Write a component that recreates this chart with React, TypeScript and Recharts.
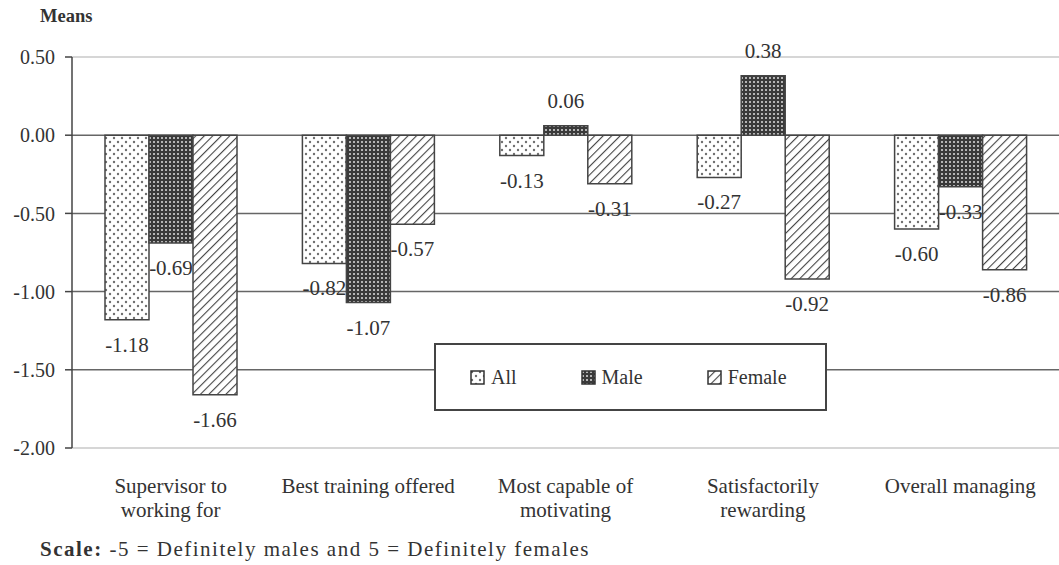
import React from "react";
import { Bar, BarChart, CartesianGrid, LabelList, XAxis, YAxis } from "recharts";

const categories = [
  "Supervisor to|working for",
  "Best training offered",
  "Most capable of|motivating",
  "Satisfactorily|rewarding",
  "Overall managing"
];
const allValues = [-1.18, -0.82, -0.13, -0.27, -0.6];
const maleValues = [-0.69, -1.07, 0.06, 0.38, -0.33];
const femaleValues = [-1.66, -0.57, -0.31, -0.92, -0.86];
const yTicks = [0.5, 0, -0.5, -1, -1.5, -2];
const edgeGridValues = [0.5, -2];
const innerGridValues = [0, -0.5, -1, -1.5];

const data = categories.map((name, i) => ({
  name,
  all: allValues[i],
  male: maleValues[i],
  female: femaleValues[i]
}));

const FONT = '"Liberation Serif", "DejaVu Serif", serif';
const INK = "#333";

const series = [
  { key: "all", label: "All", fill: "url(#pat-all)" },
  { key: "male", label: "Male", fill: "url(#pat-male)" },
  { key: "female", label: "Female", fill: "url(#pat-female)" }
];

function ValueLabel(props: any) {
  const { x, y, width, height, value } = props;
  const top = Math.min(y, y + height);
  const bottom = Math.max(y, y + height);
  const ty = value >= 0 ? top - 25 : bottom + 25;
  return (
    <text
      x={x + width / 2}
      y={ty}
      textAnchor="middle"
      dominantBaseline="central"
      fontFamily={FONT}
      fontSize={21}
      fill={INK}
    >
      {Number(value).toFixed(2)}
    </text>
  );
}

function CategoryTick(props: any) {
  const { x, y, payload } = props;
  const lines = String(payload.value).split("|");
  return (
    <text x={x} y={y + 30} textAnchor="middle" fontFamily={FONT} fontSize={21} fill={INK}>
      {lines.map((line, i) => (
        <tspan key={i} x={x} dy={i === 0 ? 0 : 24} dominantBaseline="central">
          {line}
        </tspan>
      ))}
    </text>
  );
}

function LegendBox() {
  return (
    <div
      style={{
        position: "absolute",
        left: 434,
        top: 343,
        width: 393,
        height: 68,
        boxSizing: "border-box",
        border: "2px solid #444",
        background: "#fff",
        display: "flex",
        alignItems: "center",
        paddingLeft: 34,
        gap: 64,
        fontFamily: FONT,
        fontSize: 20,
        color: INK
      }}
    >
      {series.map((s) => (
        <div key={s.key} style={{ display: "flex", alignItems: "center", gap: 6 }}>
          <svg width={15} height={15}>
            <rect x={1} y={1} width={13} height={13} fill={s.fill} stroke="#333" strokeWidth={1.5} />
          </svg>
          <span>{s.label}</span>
        </div>
      ))}
    </div>
  );
}

export default function App() {
  return (
    <div style={{ position: "absolute", left: 0, top: 0, width: 1059, height: 565, background: "#fff" }}>
      <div
        style={{
          position: "absolute",
          left: 40,
          top: 6,
          fontFamily: FONT,
          fontWeight: "bold",
          fontSize: 18.5,
          color: INK
        }}
      >
        Means
      </div>
      <BarChart
        width={1059}
        height={565}
        data={data}
        margin={{ top: 57, right: 0, bottom: 87, left: 0 }}
        barSize={44}
        barGap={0}
      >
        <defs>
          <pattern id="pat-all" width={8} height={8} patternUnits="userSpaceOnUse">
            <rect width={8} height={8} fill="#fff" />
            <circle cx={2} cy={2} r={1.2} fill="#6f6f6f" />
            <circle cx={6} cy={6} r={1.2} fill="#6f6f6f" />
          </pattern>
          <pattern id="pat-male" width={4} height={4} patternUnits="userSpaceOnUse">
            <rect width={4} height={4} fill="#3a3a3a" />
            <rect x={1} y={1} width={2} height={2} fill="#b5b5b5" />
          </pattern>
          <pattern id="pat-female" width={6} height={6} patternUnits="userSpaceOnUse" patternTransform="rotate(45)">
            <rect width={6} height={6} fill="#fff" />
            <line x1={0} y1={0} x2={0} y2={6} stroke="#444" strokeWidth={2.2} />
          </pattern>
        </defs>
        <CartesianGrid vertical={false} horizontalValues={edgeGridValues} stroke="#d6d6d6" strokeWidth={2} />
        <CartesianGrid vertical={false} horizontalValues={innerGridValues} stroke="#666" strokeWidth={1.5} />
        <XAxis dataKey="name" axisLine={false} tickLine={false} tick={<CategoryTick />} interval={0} />
        <YAxis
          width={72}
          domain={[-2, 0.5]}
          ticks={yTicks}
          tickFormatter={(v: number) => v.toFixed(2)}
          tick={{ fontFamily: FONT, fontSize: 20, fill: INK }}
          axisLine={{ stroke: "#444", strokeWidth: 1.5 }}
          tickLine={{ stroke: "#444", strokeWidth: 1.5 }}
          tickSize={7}
          tickMargin={10}
        />
        {series.map((s) => (
          <Bar key={s.key} dataKey={s.key} fill={s.fill} stroke="#444" strokeWidth={1.5} isAnimationActive={false}>
            <LabelList dataKey={s.key} content={<ValueLabel />} />
          </Bar>
        ))}
      </BarChart>
      <LegendBox />
      <div
        style={{
          position: "absolute",
          left: 40,
          top: 537,
          fontFamily: FONT,
          fontSize: 21,
          letterSpacing: 1.5,
          color: INK,
          whiteSpace: "nowrap"
        }}
      >
        <b>Scale:</b> -5 = Definitely males and 5 = Definitely females
      </div>
    </div>
  );
}
